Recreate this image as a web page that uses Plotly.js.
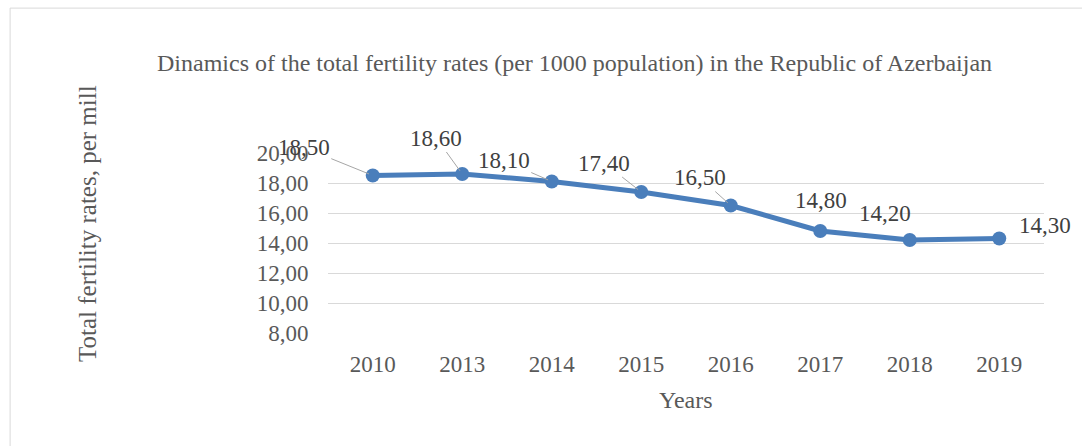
<!DOCTYPE html>
<html>
<head>
<meta charset="utf-8">
<script src="https://cdn.plot.ly/plotly-3.0.1.min.js"></script>
<style>html,body{margin:0;padding:0;background:#fff;}#chart{width:1082px;height:446px;}</style>
</head>
<body>
<div id="chart"></div>
<script>
const years = ['2010','2013','2014','2015','2016','2017','2018','2019'];
const rates = [18.5, 18.6, 18.1, 17.4, 16.5, 14.8, 14.2, 14.3];
const labels = ['18,50','18,60','18,10','17,40','16,50','14,80','14,20','14,30'];
const yTicks = [8, 10, 12, 14, 16, 18, 20];
const yTickText = ['8,00','10,00','12,00','14,00','16,00','18,00','20,00'];

// label offsets (px) from each point, and whether a leader line is drawn
const offsets = [[-69,-28],[-26,-36],[-48,-21],[-37,-29],[-31,-28],[1,-31],[-25,-27],[46,-13]];
const leaders = [true,true,true,true,true,false,false,false];

const font = "'Liberation Serif', 'Times New Roman', serif";
const txt = '#595959';

const annotations = years.map((y,i)=>({
  x: i, y: rates[i], xref:'x', yref:'y', text: labels[i],
  showarrow: true, ax: offsets[i][0], ay: offsets[i][1],
  arrowhead: 0, arrowwidth: 1, standoff: 4,
  arrowcolor: leaders[i] ? '#a6a6a6' : 'rgba(0,0,0,0)',
  font: {family: font, size: 23, color: '#404040'}
}));
annotations.push({
  text:'Total fertility rates, per mill', xref:'paper', yref:'paper',
  x: -0.3366, y: 0.611, xanchor:'center', yanchor:'middle', textangle:-90, showarrow:false,
  font:{family:font, size:25, color:txt}
});
annotations.push({
  text:'Years', xref:'paper', yref:'paper',
  x: 0.5, y: -0.37, xanchor:'center', yanchor:'middle', showarrow:false,
  font:{family:font, size:24, color:txt}
});

const trace = {
  x: years, y: rates, type:'scatter', mode:'lines+markers',
  line:{color:'#4a7ebb', width:5},
  marker:{color:'#4a7ebb', size:14},
  hoverinfo:'skip'
};

const layout = {
  width:1082, height:446,
  margin:{l:328, r:38, t:153, b:113},
  paper_bgcolor:'#fff', plot_bgcolor:'#fff',
  showlegend:false,
  title:{text:'Dinamics of the total fertility rates (per 1000 population) in the Republic of Azerbaijan',
    x:0.531, xanchor:'center', y:0.86, yanchor:'middle',
    font:{family:font, size:24, color:txt}},
  xaxis:{type:'category', categoryorder:'array', categoryarray:years, range:[-0.5, years.length-0.5],
    autorange:false, showgrid:false, zeroline:false, showline:false,
    ticks:'outside', ticklen:10, tickcolor:'rgba(0,0,0,0)',
    tickfont:{family:font, size:23, color:txt}},
  yaxis:{range:[8,20], autorange:false, tickvals:yTicks, ticktext:yTickText,
    showgrid:true, gridcolor:'#d9d9d9', gridwidth:1, zeroline:false, showline:false,
    ticks:'outside', ticklen:14, tickcolor:'rgba(0,0,0,0)',
    tickfont:{family:font, size:23, color:txt}},
  annotations: annotations,
  shapes:[{type:'rect', xref:'paper', yref:'paper', x0:-0.444, x1:1.2, y0:-1, y1:1.805,
    line:{color:'#d9d9d9', width:1}, fillcolor:'rgba(0,0,0,0)', layer:'below'}]
};

Plotly.newPlot('chart', [trace], layout, {displayModeBar:false, staticPlot:true});
</script>
</body>
</html>
